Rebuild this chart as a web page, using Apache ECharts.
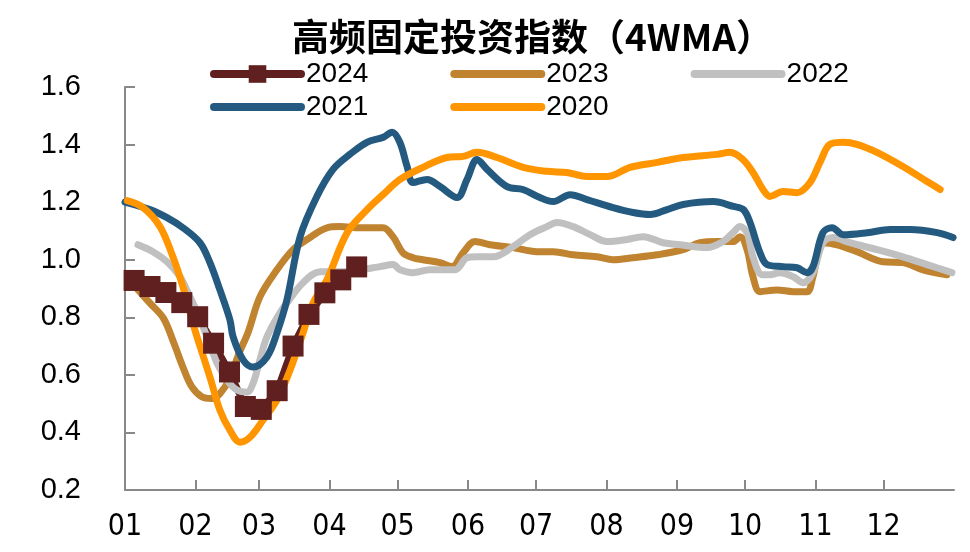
<!DOCTYPE html>
<html><head><meta charset="utf-8">
<script src="https://cdn.jsdelivr.net/npm/echarts@6/dist/echarts.min.js"></script>
<style>html,body{margin:0;padding:0;background:#fff}#c{width:970px;height:552px}</style>
</head><body><div id="c"></div>
<script>
const titleText = '高频固定投资指数（4WMA）';
const monthLabels = ['01','02','03','04','05','06','07','08','09','10','11','12'];
const monthStartDays = [0,31,59,90,120,151,181,212,243,273,304,334];
const yTicks = [0.2,0.4,0.6,0.8,1.0,1.2,1.4,1.6];
const seriesNames = ['2024','2023','2022','2021','2020'];

const days2024 = [4,11,18,25,32,39,46,53,60,67,74,81,88,95,102];
const vals2024 = [0.928,0.907,0.886,0.851,0.802,0.71,0.61,0.49,0.48,0.545,0.70,0.81,0.885,0.93,0.975];

const days2023 = [4.4,11,16.9,21.3,25.7,29.4,33.8,38.2,41.8,46.2,49.9,54.3,59.4,66.9,74,80.1,88.9,94.6,103.5,113.6,118,122.4,126.8,131.2,138.7,144,148.8,154.1,160.7,170.8,181.4,188.5,197.3,207.8,214.9,223.7,234.3,245.7,253.2,260.7,267.7,270.8,273.9,276.5,279.6,287.1,294.2,300.3,302.9,307.3,313.5,322.3,333.7,342.5,351.4,361.9];
const vals2023 = [0.907,0.849,0.797,0.715,0.623,0.559,0.524,0.518,0.535,0.588,0.669,0.75,0.871,0.965,1.035,1.07,1.111,1.115,1.111,1.111,1.08,1.024,1.007,1.0,0.99,0.976,1.024,1.063,1.052,1.042,1.028,1.028,1.017,1.01,1.0,1.007,1.017,1.035,1.059,1.063,1.063,1.08,1.035,0.941,0.889,0.895,0.889,0.889,0.941,1.059,1.052,1.028,0.993,0.99,0.965,0.948];

const days2022 = [5.7,12.3,18.5,24.2,28.6,31.7,36.1,40.5,44.9,49.3,53.7,56.4,59.4,62.5,68.2,71.3,78.4,85.9,94.6,103.5,112.3,118,121.1,126.8,134.3,145.3,150.6,155,162,170.8,178.3,185.8,190.2,197.3,204.8,212.2,221,228.1,236.9,244.4,256.3,263.3,267.7,270.8,273.9,276.5,280.5,284,288.4,294.2,298.6,302.9,307.3,311.7,319.2,331.1,342.5,353.1,364.1];
const vals2022 = [1.052,1.028,0.993,0.941,0.871,0.819,0.732,0.641,0.582,0.547,0.540,0.571,0.652,0.732,0.815,0.85,0.92,0.958,0.958,0.965,0.976,0.983,0.965,0.955,0.965,0.965,1.007,1.01,1.01,1.045,1.087,1.115,1.129,1.115,1.087,1.063,1.07,1.08,1.059,1.052,1.042,1.063,1.094,1.115,1.094,1.01,0.948,0.948,0.955,0.941,0.92,0.955,1.059,1.077,1.059,1.035,1.01,0.983,0.955];

const days2021 = [0,11,18.5,25.5,33,37.4,41.8,46.2,47.6,52,56.4,62.5,66.9,71.3,77.1,84.5,91.6,99,106.5,113.6,117.6,121,124.2,126.8,133,138.7,146.2,150.6,155,159.4,168.2,175.2,182.7,188.5,196,203.4,214.9,223.7,231.2,238.7,245.7,259,267.9,272.3,275.2,279.6,282.7,289.7,295.9,300.3,302.9,307.3,311.3,316.2,326.8,336.9,345.7,357.6,364.6];
const vals2021 = [1.2,1.174,1.146,1.111,1.059,0.99,0.895,0.791,0.732,0.652,0.627,0.662,0.746,0.861,1.08,1.22,1.314,1.366,1.408,1.425,1.443,1.408,1.324,1.268,1.279,1.254,1.216,1.279,1.348,1.314,1.254,1.244,1.216,1.202,1.226,1.209,1.181,1.164,1.157,1.174,1.192,1.202,1.185,1.174,1.129,1.024,0.983,0.976,0.972,0.955,0.976,1.094,1.111,1.087,1.094,1.105,1.105,1.094,1.077];

const days2020 = [1,7.9,15.4,21.1,25.5,29.9,31.7,37.4,41.8,46.2,50.6,55,60.8,66.9,72.7,78.4,82.8,88.9,97.8,106.6,113.6,121.1,131.2,141.8,148.8,155,163.8,175.3,185.8,194.6,203.4,212.2,222.4,234.3,245.7,260.7,266.4,272.1,276.5,280.9,284,289.7,295.9,301.6,306,310.4,316.2,322.3,331.1,342.5,353.1,358.9];
const vals2020 = [1.205,1.181,1.115,1.01,0.906,0.78,0.732,0.592,0.477,0.408,0.366,0.383,0.443,0.512,0.617,0.746,0.85,0.93,1.094,1.174,1.226,1.279,1.321,1.355,1.359,1.373,1.355,1.321,1.307,1.303,1.289,1.289,1.321,1.338,1.355,1.366,1.373,1.348,1.303,1.244,1.22,1.237,1.233,1.268,1.338,1.401,1.408,1.401,1.373,1.324,1.272,1.244];

const colors = {'2024':'#60201F','2023':'#C0832F','2022':'#C0C0C0','2021':'#245A80','2020':'#FF9500'};

function zip(d, v){ return d.map((x,i)=>[x, v[i]]); }
const dataMap = {
  '2024': zip(days2024, vals2024),
  '2023': zip(days2023, vals2023),
  '2022': zip(days2022, vals2022),
  '2021': zip(days2021, vals2021),
  '2020': zip(days2020, vals2020)
};

const chart = echarts.init(document.getElementById('c'), null, {renderer:'canvas'});
const legendText = {fontSize:28, color:'#000', fontFamily:"'Liberation Sans', Arial, sans-serif"};
const series = seriesNames.map(n => {
  const is24 = n === '2024';
  return {
    name: n, type: 'line', data: dataMap[n],
    smooth: is24 ? false : 0.35,
    showSymbol: is24, symbol: is24 ? 'rect' : 'none', symbolSize: 21,
    itemStyle: {color: colors[n]},
    lineStyle: {color: colors[n], width: 7, cap: 'round', join: 'round'},
    emphasis: {disabled: true},
    animation: false
  };
});
function legendItem(n){
  return n === '2024' ? {name: n} : {name: n, itemStyle: {opacity: 0}};
}
const legendCommon = {left: 205, itemWidth: 87, itemHeight: 22, itemGap: 82,
  textStyle: legendText, selectedMode: false,
  lineStyle: {width: 8, cap: 'round'}};
chart.setOption({
  animation: false,
  title: {text: titleText, left: 287, top: 13,
    textStyle: {fontSize: 37, fontWeight: 'bold', color: '#000', fontFamily: "'Noto Sans CJK SC', sans-serif"}},
  legend: [
    Object.assign({data: ['2024','2023','2022'].map(legendItem), top: 55}, legendCommon),
    Object.assign({data: ['2021','2020'].map(legendItem), top: 88}, legendCommon)
  ],
  grid: {left: 125, right: 16, top: 87, bottom: 62, containLabel: false},
  xAxis: {
    type: 'value', min: 0, max: 365,
    axisLine: {show: true, lineStyle: {color: '#898989', width: 2}},
    axisTick: {show: true, inside: true, length: 10, customValues: monthStartDays.slice(1), lineStyle: {color: '#898989', width: 2}},
    axisLabel: {customValues: monthStartDays, margin: 22, fontSize: 30, color: '#000',
      fontFamily: "'Liberation Sans Narrow', 'DejaVu Sans Condensed', 'Liberation Sans', sans-serif",
      formatter: v => monthLabels[monthStartDays.indexOf(v)]},
    splitLine: {show: false}
  },
  yAxis: {
    type: 'value', min: 0.2, max: 1.6, interval: 0.2,
    axisLine: {show: true, lineStyle: {color: '#898989', width: 2}},
    axisTick: {show: true, inside: true, length: 10, lineStyle: {color: '#898989', width: 2}},
    axisLabel: {margin: 44, fontSize: 29, color: '#000', fontFamily: "'Liberation Sans', Arial, sans-serif",
      formatter: v => v.toFixed(1)},
    splitLine: {show: false}
  },
  series: series
});
</script>
</body></html>
